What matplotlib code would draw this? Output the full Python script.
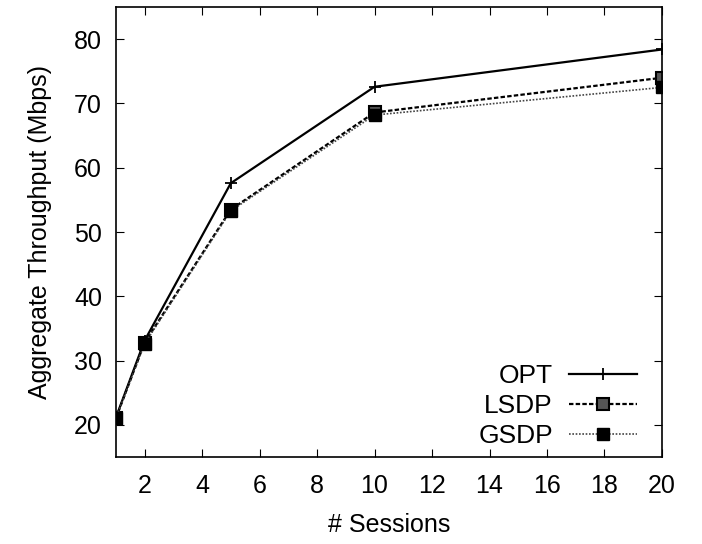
import matplotlib
matplotlib.use("Agg")
import matplotlib.pyplot as plt

sessions = [1, 2, 5, 10, 20]
opt = [21.1, 33.1, 57.6, 72.6, 78.4]
lsdp = [21.0, 32.8, 53.5, 68.6, 74.0]
gsdp = [21.0, 32.6, 53.3, 68.2, 72.5]
xticks = [2, 4, 6, 8, 10, 12, 14, 16, 18, 20]
yticks = [20, 30, 40, 50, 60, 70, 80]

plt.rcParams['font.family'] = ['Liberation Sans', 'DejaVu Sans']
fig = plt.figure(figsize=(7.02, 5.44), dpi=100)
ax = fig.add_axes([0.165, 0.16, 0.778, 0.827])

ax.plot(sessions, opt, color='black', lw=1.6, marker='+', ms=9, mew=1.3, label='OPT')
ax.plot(sessions, lsdp, color='black', lw=1.6, ls=(0, (2, 1)), marker='s', ms=9,
        mfc='#555555', mec='black', mew=1.5, label='LSDP')
ax.plot(sessions, gsdp, color='#444444', lw=1.2, ls=(0, (1, 1)), marker='s', ms=8,
        mfc='black', mec='black', label='GSDP')

ax.set_xlim(1, 20)
ax.set_ylim(15, 85)
ax.set_xticks(xticks)
ax.set_yticks(yticks)
ax.tick_params(axis='both', direction='in', top=True, right=True, labelsize=18, length=6)
ax.tick_params(axis='x', pad=12)
ax.tick_params(axis='y', pad=10)
for s in ax.spines.values():
    s.set_linewidth(1.2)
ax.set_xlabel('# Sessions', fontsize=18, labelpad=11)
ax.set_ylabel('Aggregate Throughput (Mbps)', fontsize=18, labelpad=16)
ax.legend(loc='lower right', bbox_to_anchor=(0.955, 0.02), frameon=False,
          markerfirst=False, fontsize=19, handlelength=2.6, labelspacing=0.22,
          borderaxespad=0.0, handletextpad=0.6, borderpad=0.0)

fig.savefig('out.png', dpi=100)
